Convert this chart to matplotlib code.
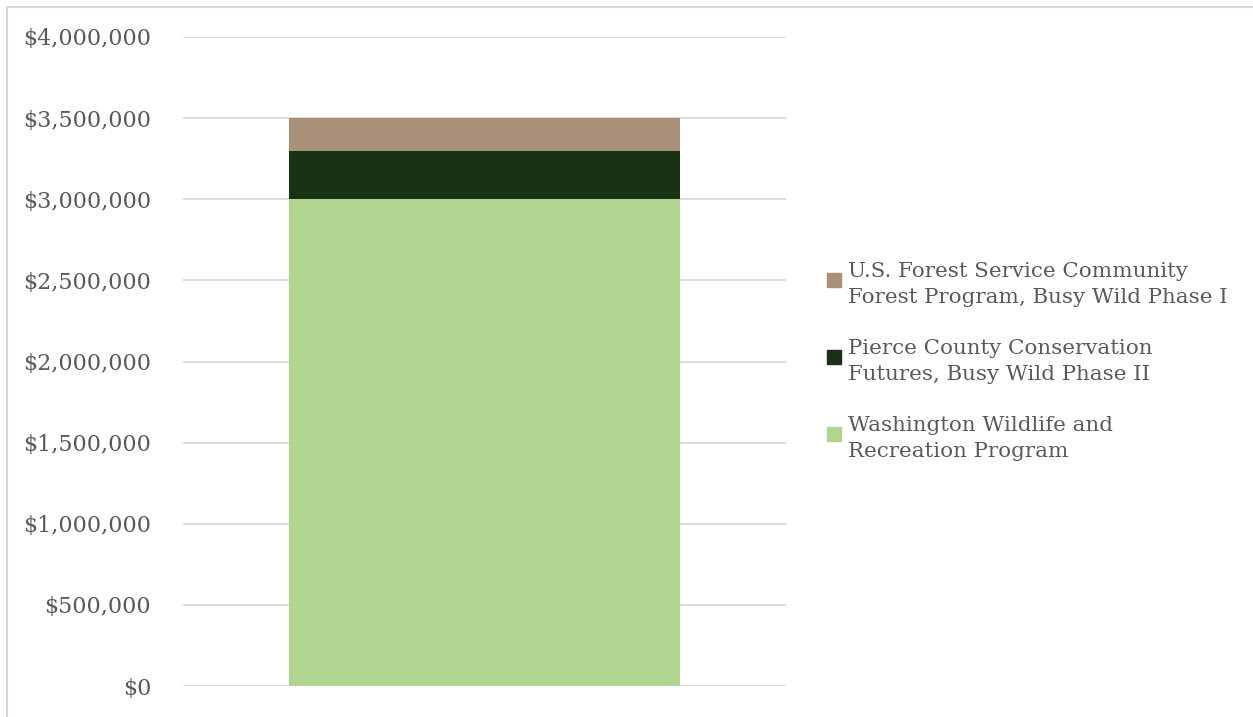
import matplotlib.pyplot as plt
from matplotlib.patches import Rectangle
from matplotlib.ticker import FuncFormatter

plt.rcParams['font.family'] = ['DejaVu Serif']

# funding sources, stacked bottom to top
sources = [
    'Washington Wildlife and\nRecreation Program',
    'Pierce County Conservation\nFutures, Busy Wild Phase II',
    'U.S. Forest Service Community\nForest Program, Busy Wild Phase I',
]
amounts = [3000000, 300000, 200000]
colors = ['#b0d590', '#1a3214', '#a99078']
yticks = [0, 500000, 1000000, 1500000, 2000000, 2500000, 3000000, 3500000, 4000000]

W, H = 1253, 717
fig = plt.figure(figsize=(W / 100, H / 100), dpi=100)
ax = fig.add_axes([183 / W, 1 - 686 / H, 603 / W, 649 / H])

# outer chart border (only top/left visible in the crop)
fig.patches.append(Rectangle((7 / W, -0.1), 1.2, 1 - 7 / H + 0.1,
                             transform=fig.transFigure, fill=False,
                             edgecolor='#d9d9d9', linewidth=1.5))

bottom = 0
for name, val, col in zip(sources, amounts, colors):
    ax.bar(0, val, width=0.647, bottom=bottom, color=col, label=name, zorder=2)
    bottom += val

ax.set_xlim(-0.5, 0.5)
ax.set_ylim(0, 4000000)
ax.set_yticks(yticks)
ax.yaxis.set_major_formatter(FuncFormatter(lambda v, p: '${:,.0f}'.format(v)))
ax.set_xticks([])
ax.grid(axis='y', color='#d9d9d9', linewidth=1.3, zorder=0)
ax.tick_params(axis='y', length=0, pad=23, labelsize=16, labelcolor='#595959')
for s in ax.spines.values():
    s.set_visible(False)

# legend, top entry first, square next to the first line of each label
for i, (name, col) in enumerate(zip(sources[::-1], colors[::-1])):
    base = 280 + 77 * i
    fig.patches.append(Rectangle((827 / W, 1 - (base + 7) / H), 14 / W, 14 / H,
                                 transform=fig.transFigure, color=col))
    fig.text(848 / W, 1 - (base - 18) / H, name, fontsize=15.4, color='#595959',
             va='top', ha='left', linespacing=1.47)

fig.savefig('out.png')
